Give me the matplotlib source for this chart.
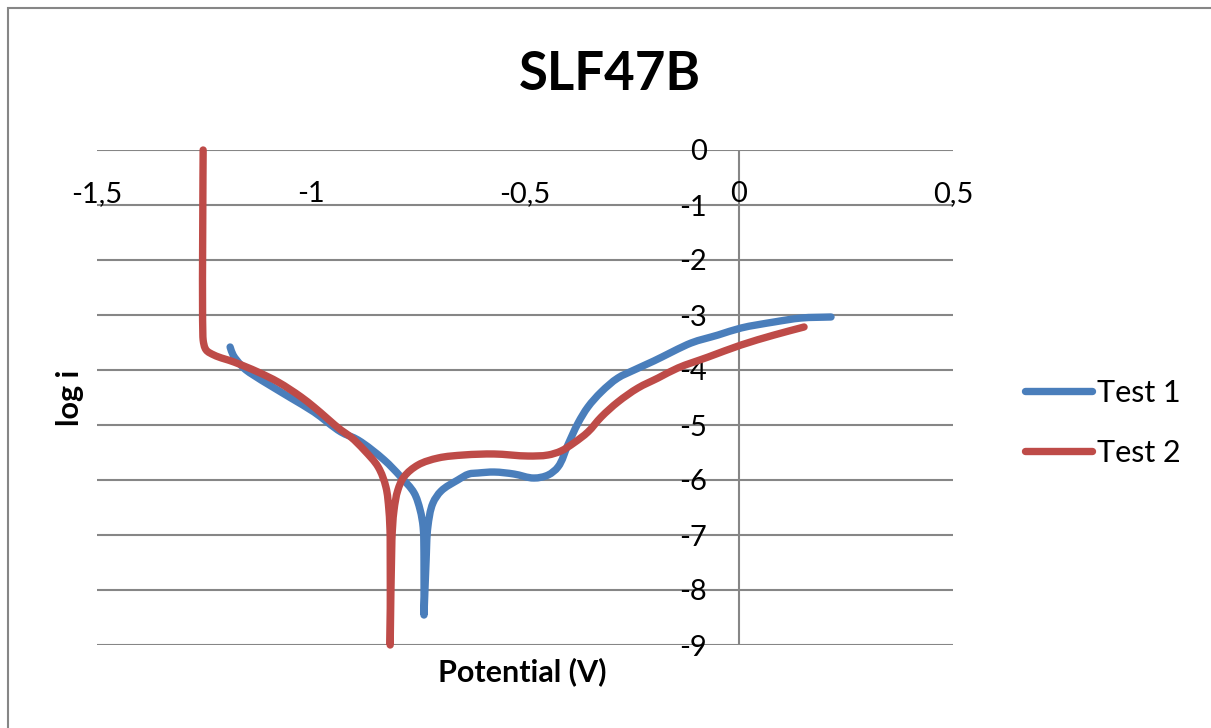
import math
import matplotlib
matplotlib.use("Agg")
import matplotlib.pyplot as plt
from matplotlib.patches import Rectangle, PathPatch
from matplotlib.path import Path
from matplotlib.lines import Line2D

# Polarization curves: potential (V) vs log of current density
test1_potential = [-1.189, -1.182, -1.164, -1.152, -1.047, -0.993, -0.930, -0.890,
                   -0.829, -0.790, -0.759, -0.745, -0.738, -0.736, -0.736, -0.731,
                   -0.727, -0.715, -0.696, -0.657, -0.631, -0.610, -0.572, -0.526,
                   -0.479, -0.446, -0.423, -0.400, -0.376, -0.353, -0.322, -0.283,
                   -0.245, -0.199, -0.112, -0.049, 0.005, 0.082, 0.145, 0.215]
test1_logi = [-3.582, -3.727, -3.909, -4.000, -4.509, -4.764, -5.127, -5.273,
              -5.636, -5.945, -6.236, -6.545, -6.855, -7.455, -8.455, -7.455,
              -6.855, -6.418, -6.200, -6.000, -5.891, -5.873, -5.855, -5.891,
              -5.964, -5.909, -5.764, -5.364, -4.964, -4.673, -4.400, -4.145,
              -4.000, -3.836, -3.509, -3.364, -3.236, -3.127, -3.055, -3.036]

test2_potential = [-1.252, -1.252, -1.245, -1.227, -1.180, -1.124, -1.077, -1.023,
                   -0.993, -0.930, -0.907, -0.876, -0.843, -0.825, -0.818, -0.815,
                   -0.815, -0.811, -0.806, -0.797, -0.783, -0.750, -0.703, -0.643,
                   -0.572, -0.493, -0.446, -0.416, -0.386, -0.353, -0.322, -0.283,
                   -0.236, -0.189, -0.143, -0.072, 0.005, 0.082, 0.152]
test2_logi = [0.000, -3.455, -3.636, -3.727, -3.855, -4.036, -4.218, -4.491,
              -4.673, -5.091, -5.218, -5.455, -5.764, -6.127, -6.545, -7.036,
              -9.000, -7.091, -6.545, -6.182, -5.945, -5.727, -5.600, -5.545,
              -5.527, -5.564, -5.545, -5.473, -5.327, -5.127, -4.855, -4.582,
              -4.327, -4.145, -3.964, -3.764, -3.545, -3.364, -3.218]

x_ticks = [-1.5, -1.0, -0.5, 0.0, 0.5]
x_tick_labels = ["-1,5", "-1", "-0,5", "0", "0,5"]
y_ticks = [0, -1, -2, -3, -4, -5, -6, -7, -8, -9]
y_tick_labels = ["0", "-1", "-2", "-3", "-4", "-5", "-6", "-7", "-8", "-9"]

BLUE = "#4A7EBB"
RED = "#BE4B48"
GRID = "#868686"
LW = 5.3
MAX_HANDLE = 10.0  # longest Bezier handle, in pixels


def _unit(dx, dy):
    d = math.hypot(dx, dy)
    return (dx / d, dy / d) if d else (0.0, 0.0)


def smooth_path(ax, xs, ys):
    """Smoothed line through the points: cubic Bezier segments whose handles
    follow the local tangent; sharp reversals are kept as cusps."""
    to_disp = ax.transData
    pts = [tuple(p) for p in to_disp.transform(list(zip(xs, ys)))]
    n = len(pts)

    t_in, t_out = [None] * n, [None] * n
    for i in range(n):
        d_in = _unit(pts[i][0] - pts[i - 1][0], pts[i][1] - pts[i - 1][1]) if i > 0 else None
        d_out = _unit(pts[i + 1][0] - pts[i][0], pts[i + 1][1] - pts[i][1]) if i < n - 1 else None
        if d_in is None:
            t_in[i] = t_out[i] = d_out
        elif d_out is None:
            t_in[i] = t_out[i] = d_in
        elif d_in[0] * d_out[0] + d_in[1] * d_out[1] < -0.2:
            t_in[i], t_out[i] = d_in, d_out
        else:
            t = _unit(d_in[0] + d_out[0], d_in[1] + d_out[1])
            t_in[i] = t_out[i] = t

    verts = [pts[0]]
    codes = [Path.MOVETO]
    for i in range(n - 1):
        p1, p2 = pts[i], pts[i + 1]
        h = min(math.hypot(p2[0] - p1[0], p2[1] - p1[1]) / 3, MAX_HANDLE)
        a, b = t_out[i], t_in[i + 1]
        c1 = (p1[0] + a[0] * h, p1[1] + a[1] * h)
        c2 = (p2[0] - b[0] * h, p2[1] - b[1] * h)
        verts += [c1, c2, p2]
        codes += [Path.CURVE4] * 3
    return Path(to_disp.inverted().transform(verts), codes)


plt.rcParams["font.family"] = ["Lato", "DejaVu Sans"]

fig = plt.figure(figsize=(12.11, 7.28), dpi=100)
ax = fig.add_axes([97 / 1211, 83 / 728, 856 / 1211, 495 / 728])

# chart border
fig.patches.append(Rectangle((8 / 1211, -0.1), 1.2, 1 - 8 / 728 + 0.1,
                             transform=fig.transFigure, fill=False,
                             edgecolor=GRID, linewidth=1.5))

ax.set_xlim(-1.5, 0.5)
ax.set_ylim(-9, 0)

for y in y_ticks:
    ax.axhline(y, color=GRID, linewidth=1.5, zorder=1)
ax.axvline(0, color=GRID, linewidth=1.5, zorder=1)

for xs, ys, color in [(test1_potential, test1_logi, BLUE),
                      (test2_potential, test2_logi, RED)]:
    ax.add_patch(PathPatch(smooth_path(ax, xs, ys), facecolor="none",
                           edgecolor=color, linewidth=LW, capstyle="round",
                           joinstyle="round", zorder=3, clip_on=False))

for s in ["top", "right", "left", "bottom"]:
    ax.spines[s].set_visible(False)
ax.spines["left"].set_position(("data", 0))
ax.spines["bottom"].set_position(("data", 0))

ax.set_xticks(x_ticks)
ax.set_xticklabels(x_tick_labels)
ax.set_yticks(y_ticks)
ax.set_yticklabels(y_tick_labels)
ax.tick_params(axis="x", length=0, pad=22, labelsize=21)
ax.tick_params(axis="y", length=0, pad=23, labelsize=21)

fig.text(522 / 1211, 1 - 672 / 728, "Potential (V)", ha="center", va="center",
         fontsize=22, fontweight="bold")
fig.text(70 / 1211, 1 - 398 / 728, "log i", ha="center", va="center",
         fontsize=22, fontweight="bold", rotation=90)
fig.text(610 / 1211, 1 - 74 / 728, "SLF47B", ha="center", va="center",
         fontsize=38, fontweight="bold")

handles = [Line2D([], [], color=BLUE, linewidth=LW, solid_capstyle="round"),
           Line2D([], [], color=RED, linewidth=LW, solid_capstyle="round")]
fig.legend(handles, ["Test 1", "Test 2"], loc="center left",
           bbox_to_anchor=(1025 / 1211, 1 - 423 / 728),
           frameon=False, fontsize=22, handlelength=2.2, handletextpad=0.17,
           labelspacing=1.04, borderpad=0, borderaxespad=0)

fig.savefig("out.png", dpi=100, facecolor="white")
